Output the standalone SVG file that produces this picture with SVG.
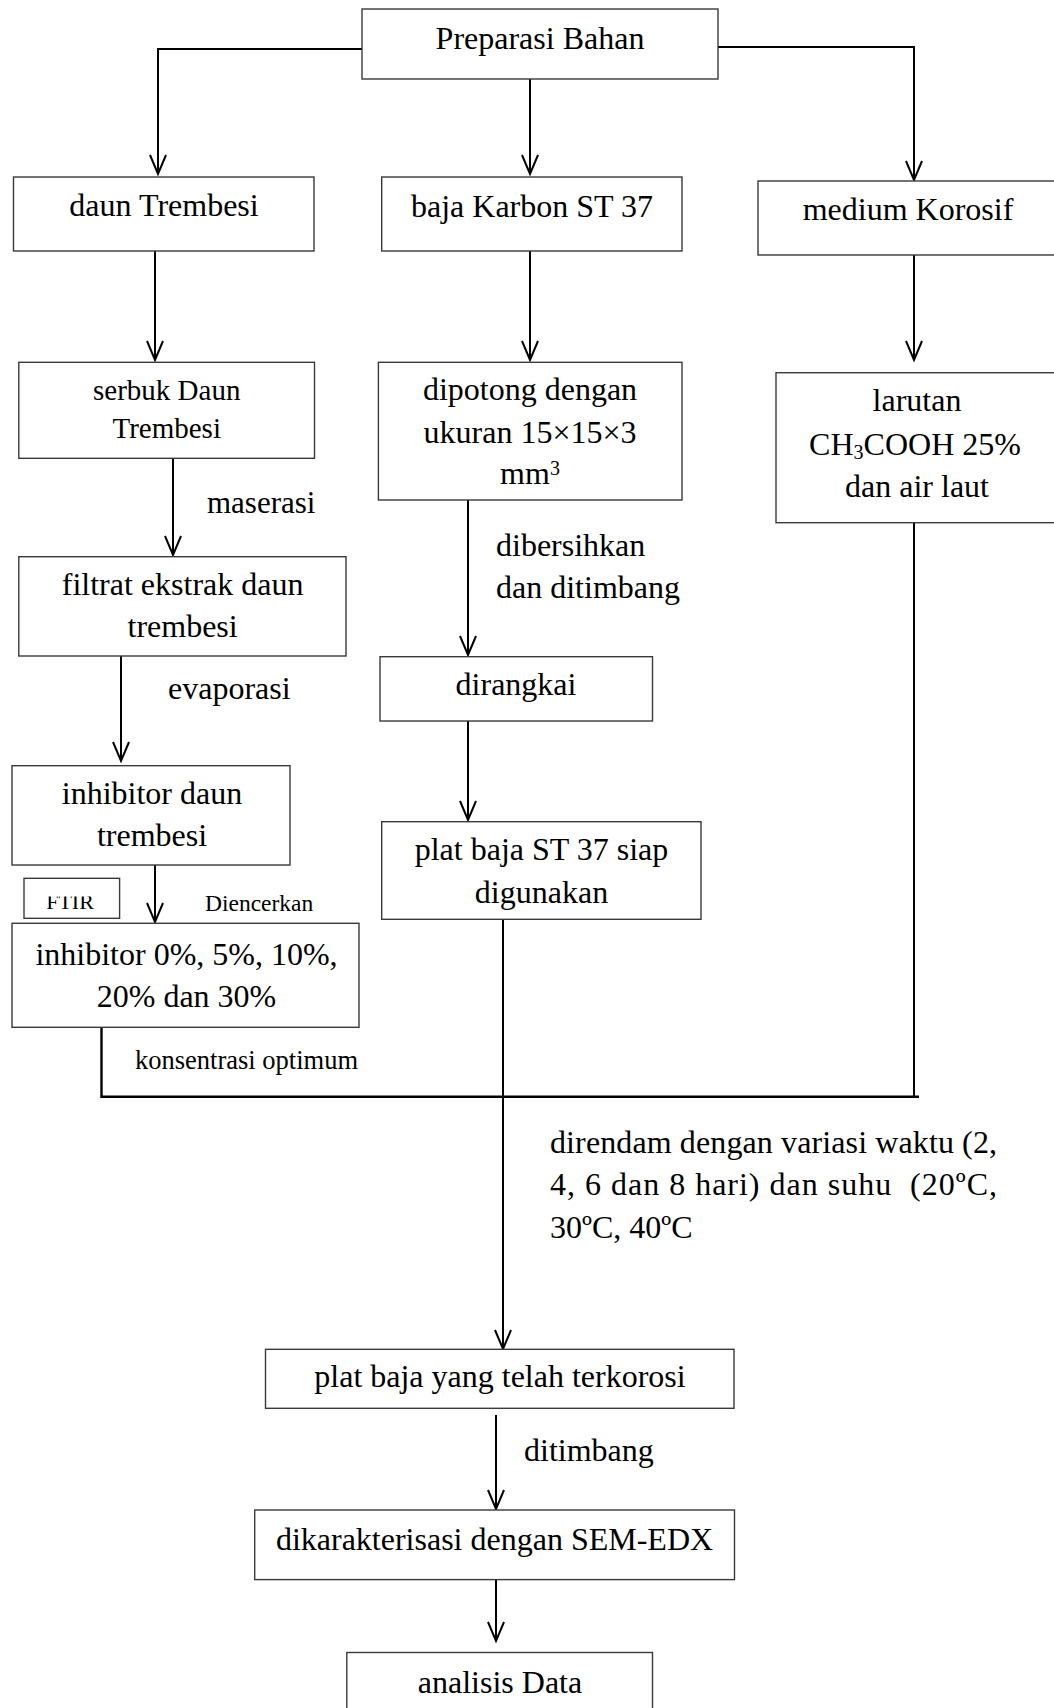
<svg xmlns="http://www.w3.org/2000/svg" width="1054" height="1708" viewBox="0 0 1054 1708">
<style>
.box{fill:#fff;stroke:#3a3a3a;stroke-width:1.4}
.t{font-family:"Liberation Serif","Times New Roman",serif;font-size:32px;fill:#000;text-anchor:middle}
.l{font-family:"Liberation Serif","Times New Roman",serif;font-size:32px;fill:#000}
.c{fill:none;stroke:#000;stroke-width:2}
.ca{fill:none;stroke:#000;stroke-width:2;marker-end:url(#arr)}
</style>
<defs>
<marker id="arr" markerUnits="userSpaceOnUse" viewBox="-22 -11 24 22" refX="0" refY="0" markerWidth="24" markerHeight="22" orient="auto" overflow="visible">
<path d="M-19,-8 L0,0 L-19,8" fill="none" stroke="#000" stroke-width="2"/>
</marker>
<clipPath id="ftirclip"><rect x="24" y="896.5" width="96" height="21"/></clipPath>
</defs>
<rect width="1054" height="1708" fill="#fff"/>

<g id="connectors">
<path class="ca" d="M362,49 H158 V174"/>
<path class="ca" d="M530,79 V174"/>
<path class="ca" d="M718,47 H914 V180"/>
<path class="ca" d="M155,251 V360"/>
<path class="ca" d="M530,251 V360"/>
<path class="ca" d="M914,255 V360"/>
<path class="ca" d="M173,458 V555"/>
<path class="ca" d="M121,656 V761"/>
<path class="ca" d="M468,500 V655"/>
<path class="ca" d="M468,721 V820"/>
<path class="ca" d="M155,865 V922"/>
<path class="c" d="M101.5,1027 V1096.7 H919" style="stroke-width:2.4"/>
<path class="c" d="M914,523 V1096.7"/>
<path class="ca" d="M503,919 V1349"/>
<path class="ca" d="M496,1415 V1509"/>
<path class="ca" d="M496,1580 V1641"/>
</g>

<g id="labels">
<text class="l" x="207" y="513" style="font-size:31px">maserasi</text>
<text class="l" x="496" y="556">dibersihkan</text>
<text class="l" x="496" y="597.7">dan ditimbang</text>
<text class="l" x="168" y="699">evaporasi</text>
<text class="l" x="205" y="910.5" style="font-size:23.5px">Diencerkan</text>
<text class="l" x="135" y="1069.3" style="font-size:26.5px">konsentrasi optimum</text>
<text class="l" x="550" y="1153.3" textLength="447" lengthAdjust="spacing">direndam dengan variasi waktu (2,</text>
<text class="l" x="550" y="1195" textLength="447" lengthAdjust="spacing">4, 6 dan 8 hari) dan suhu &#160;(20ºC,</text>
<text class="l" x="550" y="1238.3">30ºC, 40ºC</text>
<text class="l" x="524" y="1460.6">ditimbang</text>
</g>

<g id="n-preparasi">
<rect class="box" x="362" y="9" width="356" height="70"/>
<text class="t" x="540" y="49.3">Preparasi Bahan</text>
</g>
<g id="n-daun">
<rect class="box" x="13.5" y="177" width="300.5" height="74"/>
<text class="t" x="164" y="216">daun Trembesi</text>
</g>
<g id="n-baja">
<rect class="box" x="381.7" y="177" width="300.3" height="74"/>
<text class="t" x="532" y="216.7">baja Karbon ST 37</text>
</g>
<g id="n-medium">
<rect class="box" x="758" y="181" width="300" height="74"/>
<text class="t" x="908" y="220">medium Korosif</text>
</g>
<g id="n-serbuk">
<rect class="box" x="18.8" y="362.3" width="295.7" height="96"/>
<text class="t" x="166.7" y="400" style="font-size:29px">serbuk Daun</text>
<text class="t" x="166.7" y="437.7" style="font-size:29px">Trembesi</text>
</g>
<g id="n-dipotong">
<rect class="box" x="378.4" y="362.3" width="303.6" height="137.7"/>
<text class="t" x="530" y="400">dipotong dengan</text>
<text class="t" x="530" y="443.3">ukuran 15×15×3</text>
<text class="t" x="530" y="484.3">mm<tspan font-size="20" dy="-9">3</tspan></text>
</g>
<g id="n-larutan">
<rect class="box" x="776" y="372.7" width="290" height="150"/>
<text class="t" x="917" y="411">larutan</text>
<text class="t" x="915" y="455">CH<tspan font-size="20" dy="4">3</tspan><tspan dy="-4">COOH 25%</tspan></text>
<text class="t" x="917" y="496.7">dan air laut</text>
</g>
<g id="n-filtrat">
<rect class="box" x="18.8" y="556.7" width="327.2" height="99.3"/>
<text class="t" x="182.6" y="595">filtrat ekstrak daun</text>
<text class="t" x="182.6" y="636.7">trembesi</text>
</g>
<g id="n-dirangkai">
<rect class="box" x="380" y="656.7" width="272.5" height="64.3"/>
<text class="t" x="516" y="695">dirangkai</text>
</g>
<g id="n-inhibitor-daun">
<rect class="box" x="12" y="765.7" width="278" height="99.3"/>
<text class="t" x="152" y="804">inhibitor daun</text>
<text class="t" x="152" y="845.7">trembesi</text>
</g>
<g id="n-plat-siap">
<rect class="box" x="381.7" y="821.7" width="319.3" height="97.6"/>
<text class="t" x="541.5" y="860">plat baja ST 37 siap</text>
<text class="t" x="541.5" y="902.7">digunakan</text>
</g>
<g id="n-ftir">
<rect class="box" x="24" y="878.3" width="95.6" height="40"/>
<text class="t" x="70" y="909.3" style="font-size:22px" clip-path="url(#ftirclip)">FTIR</text>
</g>
<g id="n-inhibitor-konsentrasi">
<rect class="box" x="12" y="923.3" width="347" height="104"/>
<text class="t" x="186.5" y="965">inhibitor 0%, 5%, 10%,</text>
<text class="t" x="186.5" y="1006.7">20% dan 30%</text>
</g>
<g id="n-terkorosi">
<rect class="box" x="265.5" y="1349.3" width="468.5" height="59"/>
<text class="t" x="500" y="1386.7">plat baja yang telah terkorosi</text>
</g>
<g id="n-sem">
<rect class="box" x="254.7" y="1510" width="479.8" height="69.6"/>
<text class="t" x="494.5" y="1549.8">dikarakterisasi dengan SEM-EDX</text>
</g>
<g id="n-analisis">
<rect class="box" x="346.8" y="1652.5" width="305.7" height="70"/>
<text class="t" x="500" y="1693">analisis Data</text>
</g>
</svg>
